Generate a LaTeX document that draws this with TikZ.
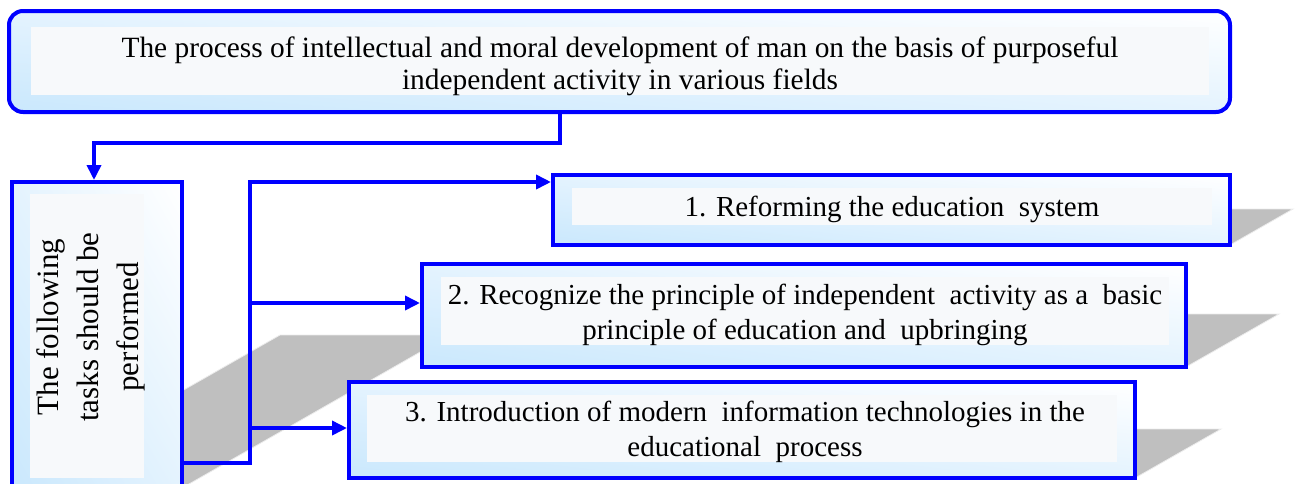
\documentclass[tikz,border=0pt]{standalone}
\usepackage{fontspec}
\setmainfont{Liberation Serif}
\usetikzlibrary{arrows.meta,shadings}
\definecolor{boxblue}{RGB}{202,232,253}
\definecolor{boxmid}{RGB}{228,243,254}
\definecolor{innerfill}{RGB}{247,249,251}
\definecolor{shadowgray}{RGB}{191,191,191}
\definecolor{lineblue}{RGB}{0,0,255}
\begin{document}
\begin{tikzpicture}[x=1pt,y=-1pt,
  outerbox/.style={draw=lineblue, line width=4pt, inner sep=0pt,
    lower left=boxblue, upper left=boxmid, lower right=boxmid, upper right=white},
  innerbox/.style={fill=innerfill, inner sep=0pt},
  txt/.style={inner sep=0pt, align=center, text=black},
  shadowshape/.style={fill=shadowgray, draw=white!85!gray, line width=0.8pt},
  conn/.style={draw=lineblue, line width=3.6pt, line join=miter},
  arr/.style={-{Triangle[length=15pt,width=14pt]}},
  toptext/.style={font={\fontsize{29.4}{32}\selectfont}},
  sidetext/.style={font={\fontsize{31}{40}\selectfont}},
  itemtext/.style={font={\fontsize{29}{35}\selectfont}}
]
\useasboundingbox (0,0) rectangle (1299,483);
\clip (0,0) rectangle (1299,483);
% shadows
\path[shadowshape] (12,488) -- (182,488) -- (450,335) -- (280,335) -- cycle;
\path[shadowshape] (553,245) -- (1230,245) -- (1293,209) -- (616,209) -- cycle;
\path[shadowshape] (422,367) -- (1186,367) -- (1279,314) -- (515,314) -- cycle;
\path[shadowshape] (349,478) -- (1135,478) -- (1221,429) -- (435,429) -- cycle;
% outer boxes
\node[outerbox, rounded corners=14pt, minimum width=1221pt, minimum height=101pt] (top) at (619.5,61.5) {};
\node[outerbox, minimum width=170pt, minimum height=306pt] (left) at (97,335) {};
\node[outerbox, minimum width=677pt, minimum height=70pt] (box1) at (891.5,210) {};
\node[outerbox, minimum width=764pt, minimum height=103pt] (box2) at (804,315.5) {};
\node[outerbox, minimum width=786pt, minimum height=96pt] (box3) at (742,430) {};
% inner panels
\node[innerbox, minimum width=1178pt, minimum height=68pt] (topin) at (620,61) {};
\node[innerbox, minimum width=114pt, minimum height=284pt] (leftin) at (87,336) {};
\node[innerbox, minimum width=640pt, minimum height=37pt] (in1) at (892,206.5) {};
\node[innerbox, minimum width=728pt, minimum height=68pt] (in2) at (805,311) {};
\node[innerbox, minimum width=750pt, minimum height=67pt] (in3) at (742,428.5) {};
% texts
\node[txt, toptext] (toptxt) at (620,66)
  {The process of intellectual and moral development of man on the basis of purposeful\\independent activity in various fields};
\node[txt, sidetext, rotate=90] (lefttxt) at (91,327)
  {The following\\tasks should be\\performed};
\node[txt, itemtext] (txt1) at (892,209.5)
  {1. Reforming the education\ \ system};
\node[txt, itemtext] (txt2) at (805,315)
  {2. Recognize the principle of independent\ \ activity as a\ \ basic\\principle of education and\ \ upbringing};
\node[txt, itemtext] (txt3) at (745,432)
  {3. Introduction of modern\ \ information technologies in the\\educational\ \ process};
% connectors
\coordinate (jb) at (250,463);
\coordinate (j1) at (250,182);
\coordinate (j2) at (250,303);
\coordinate (j3) at (250,428);
\draw[conn, arr] ([xshift=-59.5pt]top.south) -- ++(0,29) -| ([xshift=-3pt]left.north);
\draw[conn, arr] (left.east |- jb) -- (jb) -- (j1) -- (box1.west |- j1);
\draw[conn, arr] (j2) -- (box2.west |- j2);
\draw[conn, arr] (j3) -- (box3.west |- j3);
\end{tikzpicture}
\end{document}
